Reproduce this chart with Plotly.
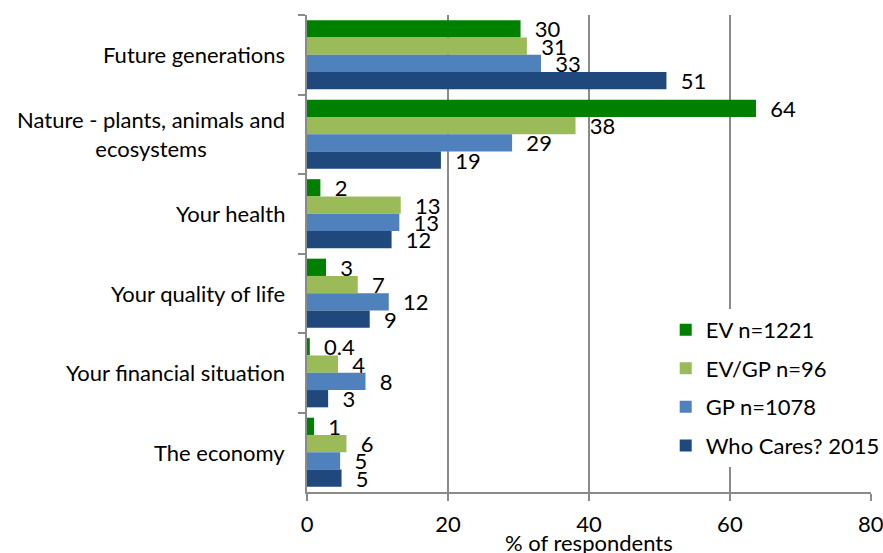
import plotly.graph_objects as go

# ---- data ----
categories = [
    "Future generations",
    "Nature - plants, animals and<br>ecosystems",
    "Your health",
    "Your quality of life",
    "Your financial situation",
    "The economy",
]
series_names = ["EV n=1221", "EV/GP n=96", "GP n=1078", "Who Cares? 2015"]
ev = [30.3, 63.7, 1.9, 2.7, 0.4, 1.0]
ev_gp = [31.2, 38.1, 13.3, 7.2, 4.4, 5.6]
gp = [33.2, 29.1, 13.1, 11.6, 8.3, 4.7]
who_cares = [51.0, 19.0, 12.0, 8.9, 3.0, 4.9]
x_ticks = [0, 20, 40, 60, 80]
x_title = "% of respondents"

colors = ["#008000", "#9BBB59", "#4F81BD", "#1F497D"]
FONT = "Lato"
FS = 22


def fmt(v):
    return f"{v:.1f}" if v < 1 else f"{v:.0f}"


fig = go.Figure()
for name, vals, col in zip(series_names, [ev, ev_gp, gp, who_cares], colors):
    fig.add_trace(go.Bar(
        y=categories, x=vals, orientation="h", name=name,
        marker=dict(color=col, line=dict(width=0)),
        text=["\u00a0\u00a0" + fmt(v) for v in vals],
        textposition="outside", constraintext="none", cliponaxis=False,
        textfont=dict(family=FONT, size=FS, color="#000000"),
        legendgroup=name,
    ))

for cat in categories:
    fig.add_annotation(
        x=0, xref="paper", y=cat, yref="y", text=cat, showarrow=False,
        xanchor="right", yanchor="middle", align="center", xshift=-20,
        font=dict(family=FONT, size=FS, color="#000000"),
    )

# x-axis title
fig.add_annotation(
    x=0.5, xref="paper", y=0, yref="paper", text=x_title, showarrow=False,
    xanchor="center", yanchor="middle", yshift=-50,
    font=dict(family=FONT, size=FS, color="#000000"),
)

fig.update_layout(
    width=883, height=553,
    margin=dict(l=307, r=12, t=15, b=61, autoexpand=False),
    paper_bgcolor="white", plot_bgcolor="white",
    barmode="group", bargap=0.13, bargroupgap=0,
    font=dict(family=FONT, size=FS, color="#000000"),
    showlegend=True,
    legend=dict(
        x=0.636, y=0.384, xanchor="left", yanchor="top",
        bgcolor="white", traceorder="grouped", tracegroupgap=7,
        font=dict(family=FONT, size=FS, color="#000000"),
    ),
    xaxis=dict(
        range=[0, 80.02], tickvals=x_ticks, showgrid=True, automargin=False,
        gridcolor="#8a8a8a", gridwidth=2,
        showline=True, linecolor="#8a8a8a", linewidth=2,
        ticks="outside", ticklen=7, tickcolor="#8a8a8a", tickwidth=2,
        ticklabelstandoff=5, ticklabeloverflow="allow", zeroline=False,
        tickfont=dict(family=FONT, size=FS, color="#000000"),
    ),
    yaxis=dict(
        autorange="reversed", showticklabels=False, automargin=False,
        showline=True, linecolor="#8a8a8a", linewidth=2,
        ticks="outside", ticklen=7, tickcolor="#8a8a8a", tickwidth=2,
        tickson="boundaries", showgrid=False, zeroline=False,
    ),
)

fig.write_html(
    "out.html",
    config={"displayModeBar": False},
    post_script="document.body.style.margin='0';document.body.style.overflow='hidden';",
)
